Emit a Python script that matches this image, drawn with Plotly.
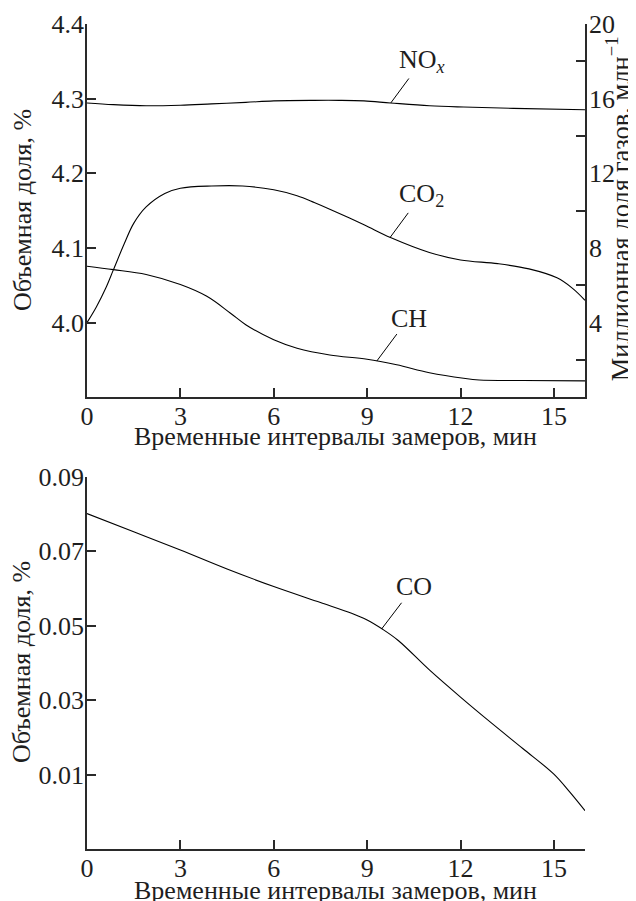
import numpy as np
import plotly.graph_objects as go

# ---------------- data ----------------
x_co2 = [0, 0.3, 0.6, 0.85, 1.2, 1.5, 1.9, 2.5, 3, 4, 5, 6, 6.75, 7.3, 7.8, 8.9, 9.75, 11, 12, 13.2, 14.2, 15.1, 15.6, 16]
co2 = [4.000, 4.021, 4.046, 4.071, 4.106, 4.133, 4.155, 4.173, 4.180, 4.183, 4.183, 4.178, 4.170, 4.161,
       4.152, 4.131, 4.114, 4.094, 4.084, 4.079, 4.072, 4.060, 4.046, 4.030]

x_nox = [0, 0.85, 1.9, 3, 4, 5.1, 6, 7.3, 8.1, 8.9, 9.75, 11, 12.1, 13.7, 16]
nox = [15.77, 15.68, 15.62, 15.65, 15.72, 15.80, 15.88, 15.91, 15.91, 15.88, 15.77, 15.62, 15.55, 15.48, 15.41]

x_ch = [0, 0.85, 1.9, 3, 3.85, 4.6, 5.1, 6, 6.75, 7.8, 9, 9.95, 11, 12.1, 12.6, 14, 16]
ch = [7.02, 6.84, 6.58, 6.04, 5.41, 4.52, 3.89, 3.08, 2.63, 2.27, 2.04, 1.74, 1.32, 1.02, 0.93, 0.90, 0.88]

x_co = [0, 1.5, 3, 4.5, 6, 7.5, 8.5, 9.0, 9.5, 10, 11, 12, 13, 14, 15, 15.5, 16]
co = [0.0801, 0.0752, 0.0703, 0.0652, 0.0605, 0.0562, 0.0533, 0.0515, 0.0490, 0.0460, 0.0381,
      0.0308, 0.0238, 0.0170, 0.0101, 0.0054, 0.0003]

x_ticks = [0, 3, 6, 9, 12, 15]
top_left_ticks = [4.0, 4.1, 4.2, 4.3, 4.4]
top_left_text = ["4.0", "4.1", "4.2", "4.3", "4.4"]
top_right_labels = [4, 8, 12, 16, 20]
top_right_minor = [2, 6, 10, 14, 18]
bot_ticks = [0.01, 0.03, 0.05, 0.07, 0.09]
bot_text = ["0.01", "0.03", "0.05", "0.07", "0.09"]

x_title = "Временные интервалы замеров, мин"
y_title = "Объемная доля, %"
y2_title = "Миллионная доля газов, млн<sup>−1</sup>"

# ---------------- figure ----------------
FONT = "Liberation Serif"
FS = 26
AX = "#2a2a2a"
TXT = "#1e1e1e"
LINE = dict(color="black", width=1.1, shape="spline", smoothing=1.0)

fig = go.Figure()
fig.add_trace(go.Scatter(x=x_co2, y=co2, mode="lines", line=LINE, xaxis="x", yaxis="y", showlegend=False))
fig.add_trace(go.Scatter(x=x_nox, y=nox, mode="lines", line=LINE, xaxis="x", yaxis="y2", showlegend=False))
fig.add_trace(go.Scatter(x=x_ch, y=ch, mode="lines", line=LINE, xaxis="x", yaxis="y2", showlegend=False))
fig.add_trace(go.Scatter(x=x_co, y=co, mode="lines", line=LINE, xaxis="x2", yaxis="y3", showlegend=False))

axis_common = dict(showgrid=False, zeroline=False, showline=True, linecolor=AX, linewidth=1.8,
                   ticks="inside", ticklen=9, tickwidth=1.5, tickcolor=AX, automargin=False,
                   tickfont=dict(family=FONT, size=FS, color=TXT))

top_dom = [0.5475, 1.0]
bot_dom = [0.0, 0.4513]

# the page body has an 8 px default margin: the figure is 8 px smaller and its margins compensate
fig.update_layout(
    width=628, height=893,
    margin=dict(l=79, r=51, t=16, b=52, autoexpand=False),
    paper_bgcolor="white", plot_bgcolor="white",
    font=dict(family=FONT, size=FS, color=TXT),
    xaxis=dict(domain=[0, 1], anchor="y", range=[0, 16], tickmode="array", tickvals=x_ticks,
               ticklabelstandoff=-5, **axis_common),
    yaxis=dict(domain=top_dom, anchor="x", range=[3.9, 4.4], tickmode="array",
               tickvals=top_left_ticks, ticktext=top_left_text, ticklabelstandoff=-4, **axis_common),
    yaxis2=dict(overlaying="y", side="right", anchor="x", range=[0, 20], tickmode="array",
                tickvals=top_right_labels, showgrid=False, zeroline=False, showline=True,
                linecolor=AX, linewidth=1.8, ticks="", automargin=False, ticklabelstandoff=-3,
                tickfont=dict(family=FONT, size=FS, color=TXT),
                minor=dict(tickmode="array", tickvals=top_right_minor, ticks="inside", ticklen=9,
                           tickwidth=1.5, tickcolor=AX, showgrid=False)),
    xaxis2=dict(domain=[0, 1], anchor="y3", range=[0, 16], tickmode="array", tickvals=x_ticks,
                ticklabelstandoff=-5, **axis_common),
    yaxis3=dict(domain=bot_dom, anchor="x2", range=[-0.01, 0.09], tickmode="array",
                tickvals=bot_ticks, ticktext=bot_text, ticklabelstandoff=-4, **axis_common),
)


def title(text, x, y, angle=0, size=FS):
    return dict(text=text, x=x, y=y, xref="paper", yref="paper", textangle=angle,
                xanchor="center", yanchor="middle", showarrow=False,
                font=dict(family=FONT, size=size, color=TXT))


ann = [
    title(y_title, -0.1305, 0.7745, -90),
    title(y2_title, 1.068, 0.7764, -90, 26.5),
    title(x_title, 0.498, 0.5006),
    title(y_title, -0.1305, 0.2267, -90),
    title(x_title, 0.498, -0.0509),
]


def label(text, xs, ys, xp, xref, yref, ax, ay):
    yp = float(np.interp(xp, xs, ys))
    return dict(text=text, x=xp, y=yp, xref=xref, yref=yref, showarrow=True, arrowhead=0,
                arrowwidth=1, arrowcolor="black", ax=ax, ay=ay, standoff=0, startstandoff=0,
                font=dict(family=FONT, size=FS, color=TXT))


ann.append(label("NO<sub><i>x</i></sub>", x_nox, nox, 9.76, "x", "y2", 31, -42))
ann.append(label("CO<sub>2</sub>", x_co2, co2, 9.74, "x", "y", 31, -42))
ann.append(label("CH", x_ch, ch, 9.31, "x", "y2", 32, -43))
ann.append(label("CO", x_co, co, 9.47, "x2", "y3", 32, -42))

fig.update_layout(annotations=ann)
fig.write_html("out.html")
